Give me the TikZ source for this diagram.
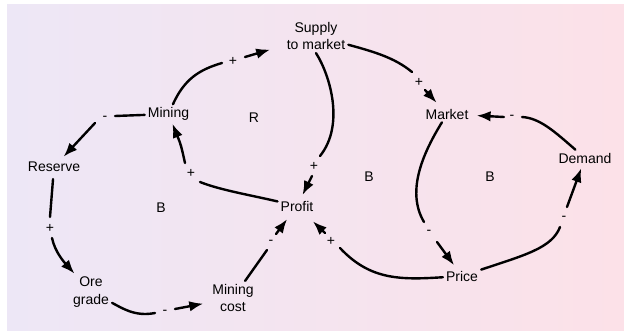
\documentclass[tikz,border=0pt]{standalone}
\usepackage{fontspec}
\setmainfont{Liberation Sans}
\usetikzlibrary{arrows.meta}
\definecolor{bgl}{RGB}{237,231,246}
\definecolor{bgr}{RGB}{252,225,232}
\begin{document}
\begin{tikzpicture}[x=1pt,y=-1pt,
  lbl/.style={font=\fontsize{14}{17.5}\selectfont, align=center, inner sep=3pt},
  sgn/.style={font=\fontsize{14}{16}\selectfont, inner sep=0pt},
  ln/.style={line width=2.4pt, line cap=round},
  arr/.style={ln, -{Latex[length=14pt,width=10.5pt]}}]
\useasboundingbox (0,0) rectangle (624,331);
\fill[white] (0,0) rectangle (624,331);
\shade[left color=bgl, right color=bgr] (7,5) rectangle (624,331);

% variables
\node[lbl] (supply) at (316,36) {Supply\\to market};
\node[lbl] (mining) at (168.5,114) {Mining};
\node[lbl] (reserve) at (54,167) {Reserve};
\node[lbl] (ore) at (91,292) {Ore\\grade};
\node[lbl] (cost) at (233,298) {Mining\\cost};
\node[lbl] (profit) at (297,206) {Profit};
\node[lbl] (market) at (447,114) {Market};
\node[lbl] (demand) at (585,158) {Demand};
\node[lbl] (price) at (462,276) {Price};
% loop labels
\node[lbl] (lR) at (254,118) {R};
\node[lbl] (lB1) at (161,208) {B};
\node[lbl] (lB2) at (369,177) {B};
\node[lbl] (lB3) at (490,177) {B};
% signs
\node[sgn] (s1) at (233,61) {+};
\node[sgn] (s2) at (419,82) {+};
\node[sgn] (s3) at (314,166) {+};
\node[sgn] (s4) at (429,232) {-};
\node[sgn] (s5) at (512,117) {-};
\node[sgn] (s6) at (564,218) {-};
\node[sgn] (s7) at (331,241) {+};
\node[sgn] (s8) at (271,242) {-};
\node[sgn] (s9) at (165,312) {-};
\node[sgn] (s10) at (50,228) {+};
\node[sgn] (s11) at (105,118) {-};
\node[sgn] (s12) at (191,173) {+};
% gap ends
\coordinate (a1) at (222,63); \coordinate (b1) at (245,57);
\coordinate (a2) at (412,72); \coordinate (b2) at (425,90);
\coordinate (a3) at (320,156); \coordinate (b3) at (312,176);
\coordinate (a4) at (424,222); \coordinate (b4) at (437,242);
\coordinate (a5) at (522,117); \coordinate (b5) at (504,117);
\coordinate (a6) at (560,227); \coordinate (b6) at (567,207);
\coordinate (a7) at (340,248); \coordinate (b7) at (325,233);
\coordinate (a8) at (267,250); \coordinate (b8) at (276,234);
\coordinate (a9) at (155,313); \coordinate (b9) at (175,309);
\coordinate (a10) at (50,217); \coordinate (b10) at (52,238);
\coordinate (a11) at (115,116); \coordinate (b11) at (95,123);
\coordinate (a12) at (200,182); \coordinate (b12) at (185,163);

% connectors
\draw[ln] (mining) .. controls (184,80) and (198,70) .. (a1);
\draw[arr, shorten >=14pt] (b1) -- (supply);

\draw[ln] (supply) .. controls (375,52) and (395,58) .. (a2);
\draw[arr, shorten >=4pt] (b2) -- (market);

\draw[ln] (supply.south) .. controls (330,75) and (345,125) .. (a3);
\draw[arr, shorten >=3pt] (b3) -- (profit);

\draw[ln] (market) .. controls (425,150) and (405,190) .. (a4);
\draw[arr, shorten >=3pt] (b4) -- (price);

\draw[ln] (demand) .. controls (555,132) and (540,118) .. (a5);
\draw[arr, shorten >=5pt] (b5) -- (market);

\draw[ln] (price) .. controls (525,255) and (552,248) .. (a6);
\draw[arr, shorten >=2pt] (b6) -- (demand);

\draw[ln] (price) .. controls (400,280) and (370,280) .. (a7);
\draw[arr, shorten >=10pt] (b7) -- (profit);

\draw[ln] (cost) -- (a8);
\draw[arr, shorten >=6pt] (b8) -- (profit);

\draw[ln] (ore) .. controls (122,308) and (135,317) .. (a9);
\draw[arr, shorten >=6pt] (b9) -- (cost);

\draw[ln, shorten <=4pt] (reserve) -- (a10);
\draw[arr] (b10) .. controls (55,252) and (64,262) .. (ore);

\draw[ln] (mining) -- (a11);
\draw[arr, shorten >=3pt] (b11) -- (reserve);

\draw[ln] (profit) .. controls (250,195) and (220,190) .. (a12);
\draw[arr] (b12) .. controls (181,145) .. (mining);
\end{tikzpicture}
\end{document}
